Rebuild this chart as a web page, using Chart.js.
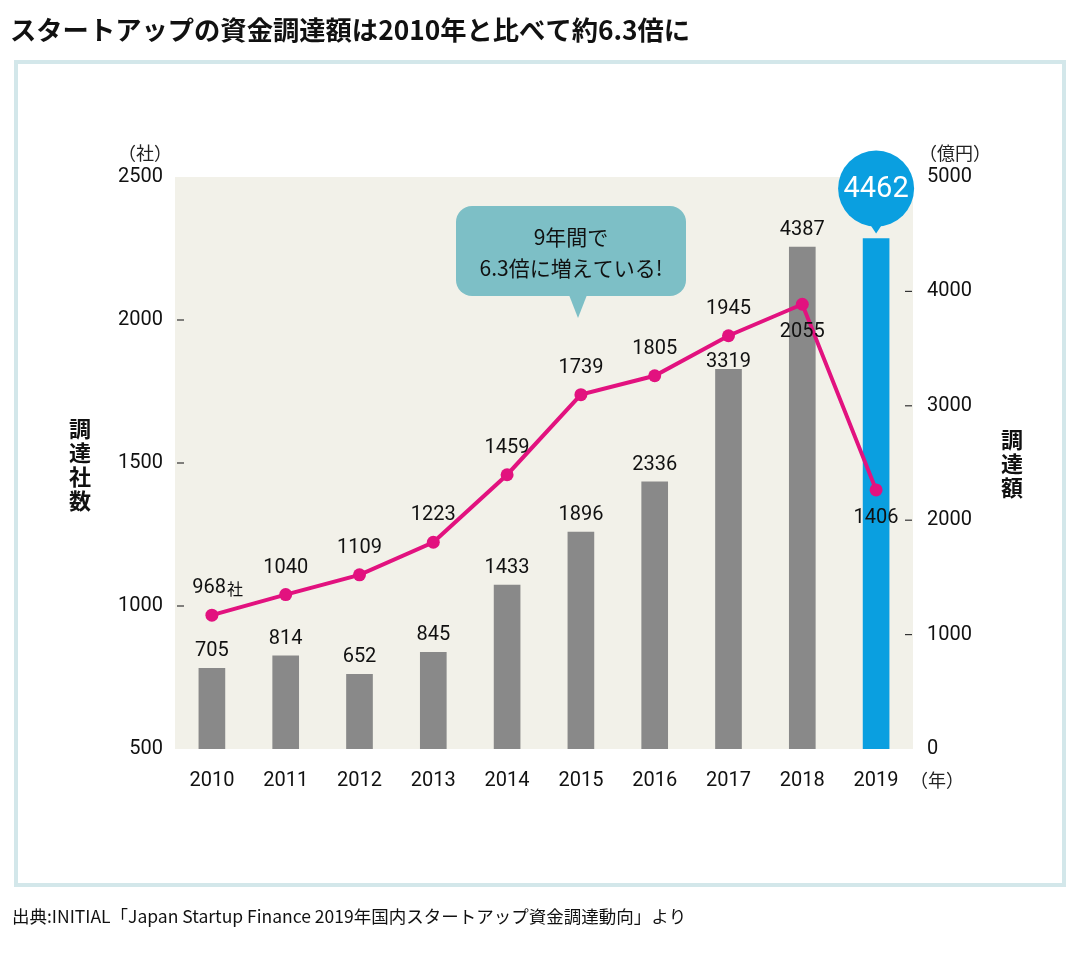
<!DOCTYPE html>
<html lang="ja">
<head>
<meta charset="utf-8">
<script src="https://cdn.jsdelivr.net/npm/chart.js@4"></script>
<style>
  html, body { margin: 0; padding: 0; background: #fff; }
  #wrap { position: relative; width: 1080px; height: 953px; }
</style>
</head>
<body>
<div id="wrap"><canvas id="chart" width="1080" height="953"></canvas></div>
<script>
// データ
const years = ['2010', '2011', '2012', '2013', '2014', '2015', '2016', '2017', '2018', '2019'];
const amounts = [705, 814, 652, 845, 1433, 1896, 2336, 3319, 4387, 4462];   // 調達額（億円）
const companies = [968, 1040, 1109, 1223, 1459, 1739, 1805, 1945, 2055, 1406]; // 調達社数（社）
const leftTicks = [500, 1000, 1500, 2000, 2500];
const rightTicks = [0, 1000, 2000, 3000, 4000, 5000];

const JP = '"Noto Sans CJK JP", "Noto Sans", sans-serif';
const NUM = 'Roboto, "Noto Sans", sans-serif';

const GRAY = '#898989';
const BLUE = '#0a9fe0';
const PINK = '#e2127f';
const BEIGE = '#f2f1e9';
const TEAL = '#7dbfc6';

// 背景・枠・タイトルなど
const decorPlugin = {
  id: 'decor',
  beforeDraw(chart) {
    const { ctx, chartArea: a } = chart;
    ctx.save();
    ctx.fillStyle = '#fff';
    ctx.fillRect(0, 0, chart.width, chart.height);
    // 外枠
    ctx.strokeStyle = '#d3e7ea';
    ctx.lineWidth = 4;
    ctx.strokeRect(16, 62, 1048, 823);
    // プロット背景
    ctx.fillStyle = BEIGE;
    ctx.fillRect(a.left, a.top, a.right - a.left, a.bottom - a.top);
    ctx.restore();
  },
  afterDraw(chart) {
    const { ctx, chartArea: a, scales } = chart;
    ctx.save();
    // タイトル
    ctx.fillStyle = '#111';
    ctx.textBaseline = 'middle';
    ctx.textAlign = 'left';
    ctx.font = 'bold 26.3px ' + JP;
    ctx.fillText('スタートアップの資金調達額は2010年と比べて約6.3倍に', 10, 30);
    // 出典
    ctx.font = '17.5px ' + JP;
    ctx.fillText('出典:INITIAL「Japan Startup Finance 2019年国内スタートアップ資金調達動向」より', 12, 916);

    // 目盛りの短い線
    ctx.strokeStyle = '#333';
    ctx.lineWidth = 1.2;
    scales.y.ticks.forEach(t => {
      if (t.value === 500 || t.value === 2500) return;
      const y = scales.y.getPixelForValue(t.value);
      ctx.beginPath(); ctx.moveTo(a.left + 2, y); ctx.lineTo(a.left + 9, y); ctx.stroke();
    });
    scales.y1.ticks.forEach(t => {
      if (t.value === 0 || t.value === 5000) return;
      const y = scales.y1.getPixelForValue(t.value);
      ctx.beginPath(); ctx.moveTo(a.right - 8, y); ctx.lineTo(a.right - 1, y); ctx.stroke();
    });

    // 単位
    ctx.fillStyle = '#222';
    ctx.font = '18px ' + JP;
    ctx.textAlign = 'center';
    ctx.fillText('（社）', a.left - 30, a.top - 24);
    ctx.fillText('（億円）', a.right + 42, a.top - 24);
    ctx.fillText('（年）', a.right + 24, a.bottom + 31);

    // 軸タイトル（縦書き）
    ctx.font = 'bold 22px ' + JP;
    ctx.fillStyle = '#111';
    '調達社数'.split('').forEach((c, i) => ctx.fillText(c, 80, 429 + i * 24));
    '調達額'.split('').forEach((c, i) => ctx.fillText(c, 1012, 440 + i * 24));

    // 棒の数値ラベル
    const barMeta = chart.getDatasetMeta(0);
    ctx.font = '20px ' + NUM;
    ctx.fillStyle = '#111';
    barMeta.data.forEach((bar, i) => {
      if (i === years.length - 1) return;
      const off = i === 7 ? 7 : 17;
      ctx.fillText(String(amounts[i]), bar.x, bar.y - off);
    });

    // 折れ線の数値ラベル
    const lineMeta = chart.getDatasetMeta(1);
    lineMeta.data.forEach((pt, i) => {
      const below = i >= 8;
      const y = below ? pt.y + 28 : pt.y - 27;
      if (i === 0) {
        ctx.textAlign = 'right';
        ctx.font = '20px ' + NUM;
        ctx.fillText(String(companies[i]), pt.x + 14, y);
        ctx.textAlign = 'left';
        ctx.font = '16px ' + JP;
        ctx.fillText('社', pt.x + 15, y + 1);
        ctx.textAlign = 'center';
        ctx.font = '20px ' + NUM;
      } else {
        ctx.fillText(String(companies[i]), pt.x, y);
      }
    });

    // 2019年の吹き出し（青丸）
    const last = barMeta.data[years.length - 1];
    const cx = last.x, cy = last.y - 50;
    ctx.fillStyle = BLUE;
    ctx.beginPath();
    ctx.arc(cx, cy, 38, 0, Math.PI * 2);
    ctx.fill();
    ctx.beginPath();
    ctx.moveTo(cx - 6, cy + 36);
    ctx.lineTo(cx, cy + 45);
    ctx.lineTo(cx + 6, cy + 36);
    ctx.closePath();
    ctx.fill();
    ctx.fillStyle = '#fff';
    ctx.font = '29px ' + NUM;
    ctx.fillText(String(amounts[years.length - 1]), cx, cy + 1);

    // 吹き出し「9年間で6.3倍に増えている!」
    const bx = 456, by = 206, bw = 230, bh = 90, r = 16;
    const tipX = (lineMeta.data[5].x + lineMeta.data[4].x) / 2 + 34;
    ctx.fillStyle = TEAL;
    ctx.beginPath();
    ctx.roundRect(bx, by, bw, bh, r);
    ctx.fill();
    ctx.beginPath();
    ctx.moveTo(tipX - 9, by + bh - 1);
    ctx.lineTo(tipX, by + bh + 22);
    ctx.lineTo(tipX + 9, by + bh - 1);
    ctx.closePath();
    ctx.fill();
    ctx.fillStyle = '#111';
    ctx.font = '21px ' + JP;
    ctx.fillText('9年間で', bx + bw / 2, by + 31);
    ctx.fillText('6.3倍に増えている!', bx + bw / 2, by + 62);

    ctx.restore();
  }
};

const plainTick = v => String(v);

new Chart(document.getElementById('chart'), {
  type: 'bar',
  data: {
    labels: years,
    datasets: [
      {
        type: 'bar',
        label: '調達額',
        data: amounts,
        yAxisID: 'y1',
        backgroundColor: years.map((y, i) => i === years.length - 1 ? BLUE : GRAY),
        barThickness: 26,
        order: 2
      },
      {
        type: 'line',
        label: '調達社数',
        data: companies,
        yAxisID: 'y',
        borderColor: PINK,
        backgroundColor: PINK,
        borderWidth: 4,
        pointRadius: 6.5,
        pointBackgroundColor: PINK,
        pointBorderWidth: 0,
        tension: 0,
        order: 1
      }
    ]
  },
  options: {
    responsive: false,
    animation: false,
    devicePixelRatio: 1,
    layout: { padding: { top: 177, left: 0, right: 0, bottom: 0 } },
    plugins: {
      legend: { display: false },
      tooltip: { enabled: false }
    },
    scales: {
      x: {
        grid: { display: false, drawTicks: false },
        border: { display: false },
        ticks: { padding: 20, color: '#111', font: { family: NUM, size: 20 } },
        afterFit(s) { s.height = 953 - 177 - 572; }
      },
      y: {
        position: 'left',
        min: 500, max: 2500,
        afterBuildTicks(s) { s.ticks = leftTicks.map(v => ({ value: v })); },
        grid: { display: false, drawTicks: false },
        border: { display: false },
        ticks: { padding: 12, color: '#111', font: { family: NUM, size: 20 }, callback: plainTick },
        afterFit(s) { s.width = 175; }
      },
      y1: {
        position: 'right',
        min: 0, max: 5000,
        afterBuildTicks(s) { s.ticks = rightTicks.map(v => ({ value: v })); },
        grid: { display: false, drawTicks: false },
        border: { display: false },
        ticks: { padding: 14, color: '#111', font: { family: NUM, size: 20 }, callback: plainTick },
        afterFit(s) { s.width = 1080 - 913; }
      }
    }
  },
  plugins: [decorPlugin]
});
</script>
</body>
</html>
